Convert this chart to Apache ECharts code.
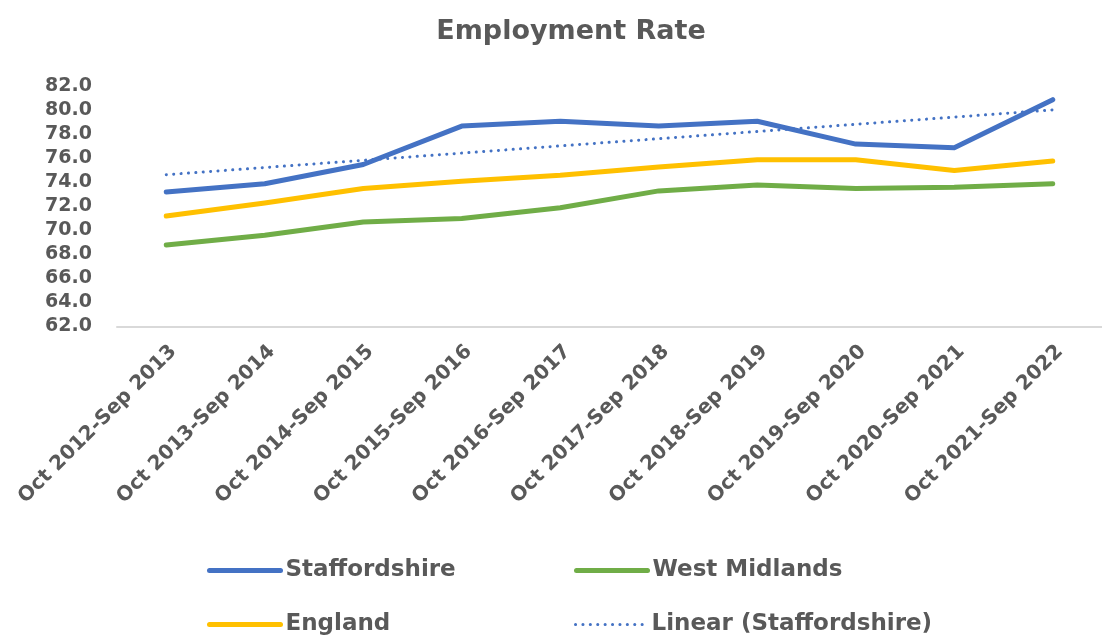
<!DOCTYPE html>
<html>
<head>
<meta charset="utf-8">
<script src="https://cdn.jsdelivr.net/npm/echarts@6/dist/echarts.min.js"></script>
<style>
  html, body { margin: 0; padding: 0; background: #fff; }
  #chart { width: 1102px; height: 635px; }
</style>
</head>
<body>
<div id="chart"></div>
<script>
// categories (x axis)
const periods = ['Oct 2012-Sep 2013', 'Oct 2013-Sep 2014', 'Oct 2014-Sep 2015', 'Oct 2015-Sep 2016',
  'Oct 2016-Sep 2017', 'Oct 2017-Sep 2018', 'Oct 2018-Sep 2019', 'Oct 2019-Sep 2020',
  'Oct 2020-Sep 2021', 'Oct 2021-Sep 2022'];
// employment rate, %
const staffordshire = [73.2, 73.9, 75.5, 78.7, 79.1, 78.7, 79.1, 77.2, 76.9, 80.9];
const westMidlands = [68.8, 69.6, 70.7, 71.0, 71.9, 73.3, 73.8, 73.5, 73.6, 73.9];
const england = [71.2, 72.3, 73.5, 74.1, 74.6, 75.3, 75.9, 75.9, 75.0, 75.8];
// trendline end points (first / last period)
const linearStaffordshire = [74.65, 80.05];

const grey = '#595959';
const font = 'DejaVu Sans';

const myChart = echarts.init(document.getElementById('chart'));

// one legend per entry so the 2x2 layout lines up
function legendAt(name, left, top, lineStyle) {
    return {
        data: [name],
        left: left,
        top: top,
        padding: 0,
        itemWidth: 71,
        itemHeight: 14,
        itemGap: 0,
        itemStyle: { opacity: 0 },   // hide the dot, keep the line
        lineStyle: lineStyle,
        textStyle: { color: grey, fontSize: 23, fontWeight: 'bold', fontFamily: font }
    };
}

myChart.setOption({
    animation: false,
    title: {
        text: 'Employment Rate',
        left: 566,
        top: 13,
        textAlign: 'center',
        textStyle: { color: grey, fontSize: 27, fontWeight: 'bold', fontFamily: font }
    },
    legend: [
        legendAt('Staffordshire', 207, 559, { width: 5, cap: 'round' }),
        legendAt('West Midlands', 574, 559, { width: 5, cap: 'round' }),
        legendAt('England', 207, 613, { width: 5, cap: 'round' }),
        legendAt('Linear (Staffordshire)', 574, 613, { width: 3, type: [0.1, 7.3], cap: 'round' })
    ],
    grid: {
        left: 117,
        right: -11,
        top: 86.5,
        bottom: 635 - 326.5,
        containLabel: false
    },
    xAxis: {
        type: 'category',
        data: periods,
        boundaryGap: true,
        axisLine: { lineStyle: { color: '#D9D9D9', width: 2 } },
        axisTick: { show: false },
        axisLabel: {
            rotate: 45,
            margin: 15,
            align: 'right',
            verticalAlign: 'top',
            color: grey,
            fontSize: 20,
            fontWeight: 'bold',
            fontFamily: font,
            interval: 0
        }
    },
    yAxis: {
        type: 'value',
        min: 62,
        max: 82,
        interval: 2,
        axisLine: { show: false },
        axisTick: { show: false },
        splitLine: { show: false },
        axisLabel: {
            margin: 25,
            color: grey,
            fontSize: 19,
            fontWeight: 'bold',
            fontFamily: font,
            formatter: v => v.toFixed(1)
        }
    },
    series: [
        {
            name: 'Staffordshire',
            type: 'line',
            symbol: 'none',
            data: staffordshire,
            lineStyle: { color: '#4472C4', width: 5, cap: 'round', join: 'round' },
            itemStyle: { color: '#4472C4' }
        },
        {
            name: 'West Midlands',
            type: 'line',
            symbol: 'none',
            data: westMidlands,
            lineStyle: { color: '#70AD47', width: 5, cap: 'round', join: 'round' },
            itemStyle: { color: '#70AD47' }
        },
        {
            name: 'England',
            type: 'line',
            symbol: 'none',
            data: england,
            lineStyle: { color: '#FFC000', width: 5, cap: 'round', join: 'round' },
            itemStyle: { color: '#FFC000' }
        },
        {
            name: 'Linear (Staffordshire)',
            type: 'line',
            symbol: 'none',
            data: [[0, linearStaffordshire[0]], [periods.length - 1, linearStaffordshire[1]]],
            lineStyle: { color: '#4472C4', width: 3, type: [0.1, 7.3], cap: 'round' },
            itemStyle: { color: '#4472C4' }
        }
    ]
});
</script>
</body>
</html>
